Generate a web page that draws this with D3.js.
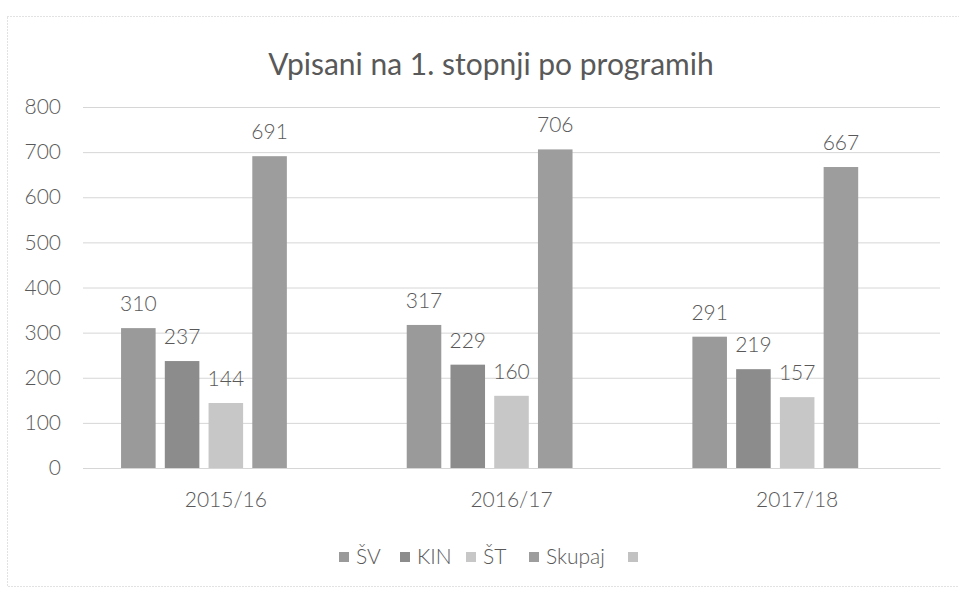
<!DOCTYPE html>
<html>
<head>
<meta charset="utf-8">
<script src="https://cdn.jsdelivr.net/npm/d3@7"></script>
<style>
  html, body { margin: 0; padding: 0; background: #fff; }
  svg { display: block; font-family: Lato, "Open Sans", sans-serif; font-weight: 300; }
</style>
</head>
<body>
<svg id="chart" width="959" height="589"></svg>
<script>
const title = "Vpisani na 1. stopnji po programih";
const categories = ["2015/16", "2016/17", "2017/18"];
const seriesNames = ["ŠV", "KIN", "ŠT", "Skupaj", ""];
const valuesSV = [310, 317, 291];
const valuesKIN = [237, 229, 219];
const valuesST = [144, 160, 157];
const valuesSkupaj = [691, 706, 667];
const valuesEmpty = [null, null, null];
const yTicks = [0, 100, 200, 300, 400, 500, 600, 700, 800];

const seriesValues = [valuesSV, valuesKIN, valuesST, valuesSkupaj, valuesEmpty];
const colors = ["#9a9a9a", "#8c8c8c", "#c7c7c7", "#9d9d9d", "#c2c2c2"];
const textColor = "#595959";
const fontFam = "Lato, 'Open Sans', sans-serif";

const svg = d3.select("#chart");
const plotLeft = 83, plotRight = 940, plotTop = 107, plotBottom = 468;

// frame
svg.append("rect")
  .attr("x", 7.5).attr("y", 16.5).attr("width", 970).attr("height", 570)
  .attr("fill", "none").attr("stroke", "#c4c4c4").attr("stroke-dasharray", "1,2");

const x0 = d3.scaleBand().domain(categories).range([plotLeft, plotRight]).padding(0);
const x1 = d3.scaleBand().domain(d3.range(seriesNames.length))
  .range([0, x0.bandwidth()]).paddingInner(0.21).paddingOuter(0.87);
const y = d3.scaleLinear().domain([0, 800]).range([plotBottom, plotTop]);

// title
svg.append("text").attr("x", 491).attr("y", 75)
  .attr("text-anchor", "middle").attr("font-size", 30).attr("fill", textColor)
  .attr("font-weight", 400)
  .text(title);

// gridlines + y labels
const yAxis = d3.axisLeft(y).tickValues(yTicks).tickSize(-(plotRight - plotLeft)).tickPadding(22);
const gy = svg.append("g").attr("transform", `translate(${plotLeft},0)`).call(yAxis);
gy.select(".domain").remove();
gy.selectAll(".tick line").attr("stroke", "#d6d6d6").attr("stroke-width", 1);
gy.selectAll(".tick text").attr("fill", textColor).attr("font-size", 21)
  .attr("font-family", fontFam);

// bars
const groups = svg.append("g").selectAll("g").data(categories).join("g")
  .attr("transform", d => `translate(${x0(d)},0)`);

seriesValues.forEach((vals, si) => {
  groups.each(function(cat, ci) {
    const v = vals[ci];
    if (v == null) return;
    const g = d3.select(this);
    g.append("rect")
      .attr("x", x1(si)).attr("width", x1.bandwidth())
      .attr("y", y(v)).attr("height", y(0) - y(v))
      .attr("fill", colors[si]);
    g.append("text")
      .attr("x", x1(si) + x1.bandwidth() / 2).attr("y", y(v) - 17)
      .attr("text-anchor", "middle").attr("font-size", 21).attr("fill", textColor)
      .text(v);
  });
});

// x axis labels
const xAxis = d3.axisBottom(x0).tickSize(0).tickPadding(24);
const gx = svg.append("g").attr("transform", `translate(0,${plotBottom})`).call(xAxis);
gx.select(".domain").attr("stroke", "#d6d6d6");
gx.selectAll(".tick text").attr("fill", textColor).attr("font-size", 21)
  .attr("font-family", fontFam);

// legend
const legendX = [339, 400, 466, 529, 628];
const lg = svg.append("g");
seriesNames.forEach((name, i) => {
  lg.append("rect").attr("x", legendX[i]).attr("y", 552).attr("width", 10).attr("height", 10)
    .attr("fill", colors[i]);
  if (name) {
    lg.append("text").attr("x", legendX[i] + 17).attr("y", 564)
      .attr("font-size", 21).attr("fill", textColor).text(name);
  }
});
</script>
</body>
</html>
